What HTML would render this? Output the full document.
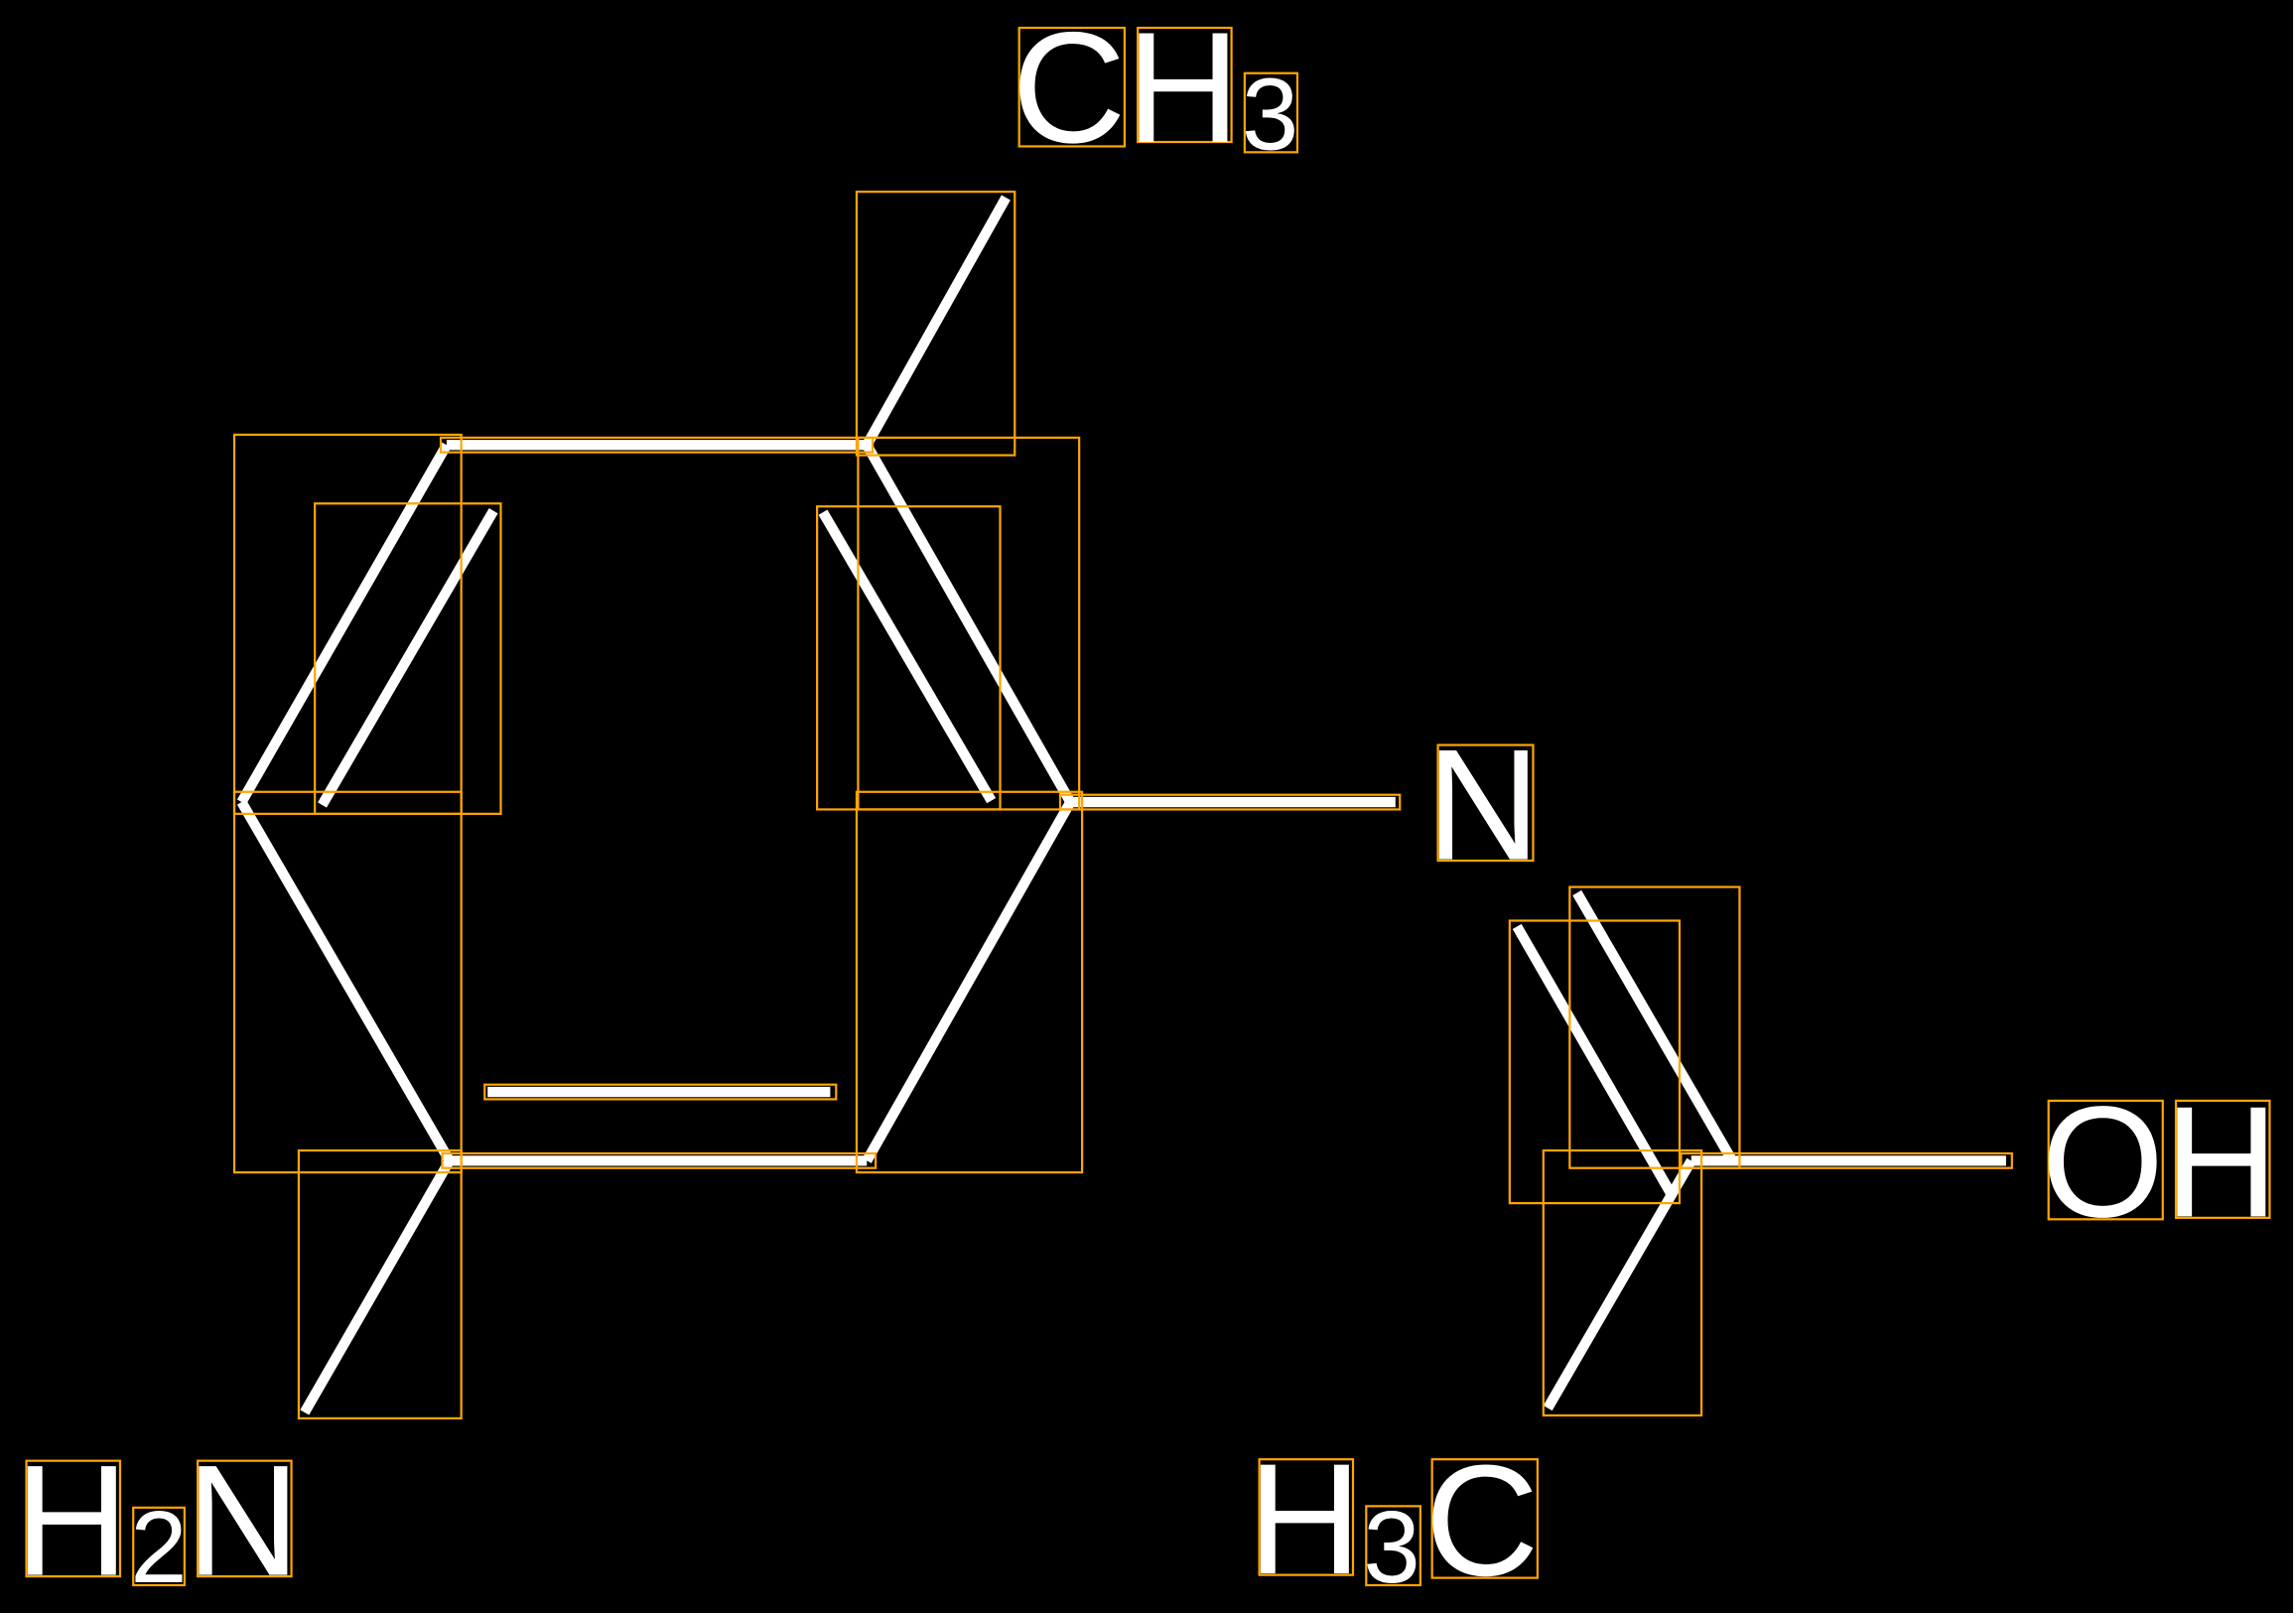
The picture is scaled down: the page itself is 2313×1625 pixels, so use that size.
<!DOCTYPE html>
<html><head><meta charset="utf-8"><style>
html,body{margin:0;padding:0;background:#000;}
svg{display:block;}
</style></head><body>
<svg width="2313" height="1625" viewBox="0 0 1568 1102" preserveAspectRatio="none" xmlns="http://www.w3.org/2000/svg">
<rect x="0" y="0" width="1568" height="1102" fill="#000"/>
<rect x="1566" y="0" width="2" height="1102" fill="#fff"/>
<g stroke="#fff" stroke-width="7" stroke-linecap="butt">
<line x1="305" y1="304" x2="592" y2="304"/>
<line x1="592" y1="304" x2="687" y2="135"/>
<line x1="305" y1="304" x2="165" y2="548"/>
<line x1="220" y1="550" x2="337" y2="349"/>
<line x1="165" y1="548" x2="307" y2="793"/>
<line x1="307" y1="793" x2="592" y2="793"/>
<line x1="333" y1="746" x2="567" y2="746"/>
<line x1="592" y1="793" x2="731" y2="548"/>
<line x1="592" y1="304" x2="731" y2="548"/>
<line x1="562" y1="350" x2="677" y2="547"/>
<line x1="731" y1="548" x2="953" y2="548"/>
<line x1="307" y1="793" x2="208" y2="965"/>
<line x1="1155" y1="793" x2="1370" y2="793"/>
<line x1="1155" y1="793" x2="1057" y2="962"/>
<line x1="1077" y1="610" x2="1183" y2="793"/>
<line x1="1036" y1="633" x2="1142" y2="817"/>
</g>
<g fill="none" stroke="#ffa500" stroke-width="1.5">
<rect x="301" y="299" width="295" height="10"/>
<rect x="585" y="131" width="108" height="180"/>
<rect x="160" y="297" width="155" height="259"/>
<rect x="215" y="344" width="127" height="212"/>
<rect x="160" y="541" width="155" height="260"/>
<rect x="302" y="788" width="296" height="10"/>
<rect x="331" y="741" width="240" height="10"/>
<rect x="585" y="541" width="154" height="260"/>
<rect x="586" y="299" width="151" height="254"/>
<rect x="558" y="346" width="125" height="207"/>
<rect x="724" y="543" width="232" height="10"/>
<rect x="204" y="786" width="111" height="183"/>
<rect x="1148" y="788" width="226" height="10"/>
<rect x="1054" y="786" width="108" height="181"/>
<rect x="1072" y="606" width="116" height="192"/>
<rect x="1031" y="629" width="116" height="193"/>
<rect x="696" y="19" width="72" height="81"/>
<rect x="777" y="19" width="64" height="78"/>
<rect x="850" y="50" width="36" height="54"/>
<rect x="982" y="509" width="65" height="79"/>
<rect x="1399" y="752" width="78" height="81"/>
<rect x="1486" y="752" width="64" height="80"/>
<rect x="18" y="998" width="64" height="79"/>
<rect x="91" y="1030" width="35" height="53"/>
<rect x="135" y="998" width="64" height="79"/>
<rect x="860" y="997" width="64" height="79"/>
<rect x="933" y="1029" width="37" height="54"/>
<rect x="978" y="997" width="72" height="81"/>
</g>
<g fill="#fff" font-family="Liberation Sans, sans-serif" font-size="108">
<text x="691" y="97">C</text>
<text x="769" y="97">H</text>
<text x="848" y="102" font-size="70">3</text>
<text x="974" y="587">N</text>
<text x="1394" y="831">O</text>
<text x="1478" y="831">H</text>
<text x="10" y="1076">H</text>
<text x="89" y="1081" font-size="70">2</text>
<text x="127" y="1076">N</text>
<text x="852" y="1075">H</text>
<text x="931" y="1081" font-size="70">3</text>
<text x="973" y="1076">C</text>
</g>
</svg>
</body></html>
